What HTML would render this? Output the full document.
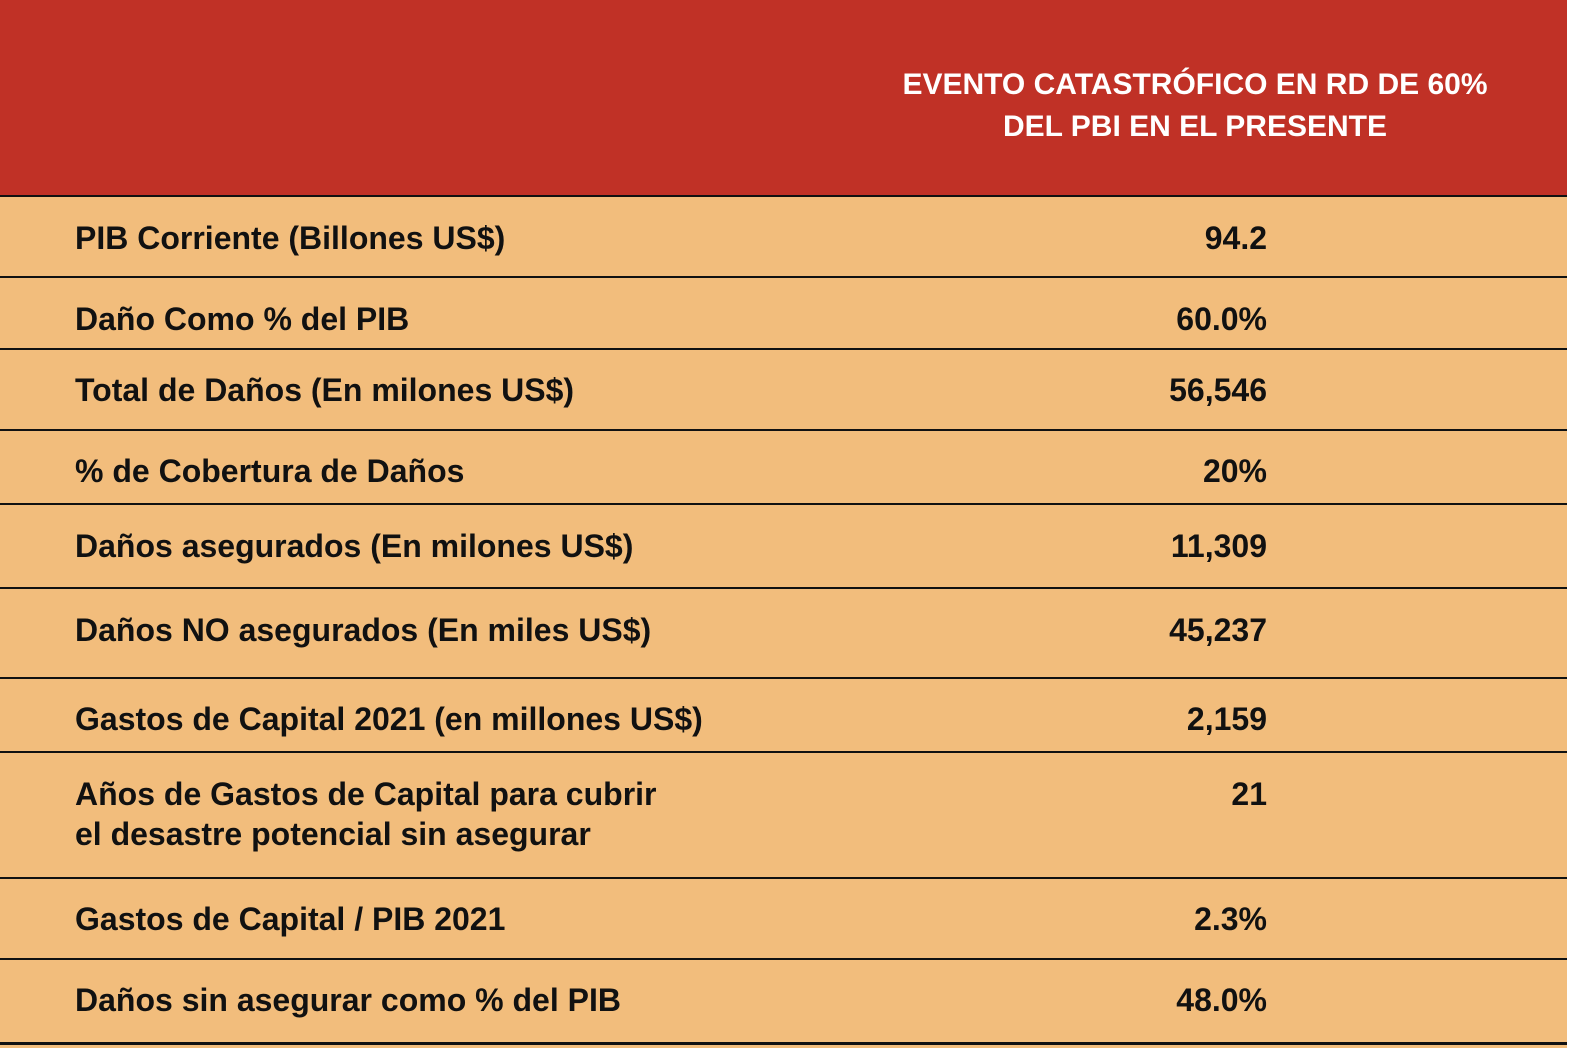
<!DOCTYPE html>
<html><head><meta charset="utf-8"><style>
body{margin:0;width:1572px;height:1048px;background:#fff;position:relative;overflow:hidden;font-family:"Liberation Sans",sans-serif;}
#bg{position:absolute;left:0;top:0;width:1567px;height:1048px;background:#f2bd7c;}
#hd{position:absolute;left:0;top:0;width:1567px;height:195px;background:#c03126;}
.ht{position:absolute;left:895px;width:600px;text-align:center;color:#fff;font-size:30px;font-weight:bold;line-height:42px;top:64px;}
.ln{position:absolute;left:0;width:1567px;height:2px;background:#111;}
.l{position:absolute;left:75px;font-size:32px;font-weight:bold;color:#111;line-height:40px;white-space:nowrap;}
.v{position:absolute;right:305px;font-size:32px;font-weight:bold;color:#111;line-height:40px;white-space:nowrap;}
</style></head><body>
<div id="bg"></div><div id="hd"></div>
<div class="ht">EVENTO CATASTRÓFICO EN RD DE 60%<br>DEL PBI EN EL PRESENTE</div>
<div class="ln" style="top:195px"></div>
<div class="ln" style="top:276px"></div>
<div class="ln" style="top:348px"></div>
<div class="ln" style="top:429px"></div>
<div class="ln" style="top:503px"></div>
<div class="ln" style="top:587px"></div>
<div class="ln" style="top:677px"></div>
<div class="ln" style="top:751px"></div>
<div class="ln" style="top:877px"></div>
<div class="ln" style="top:958px"></div>
<div class="ln" style="top:1042px;height:3px"></div>

<div class="l" style="top:218px">PIB Corriente (Billones US$)</div><div class="v" style="top:218px">94.2</div>
<div class="l" style="top:299px">Daño Como % del PIB</div><div class="v" style="top:299px">60.0%</div>
<div class="l" style="top:370px">Total de Daños (En milones US$)</div><div class="v" style="top:370px">56,546</div>
<div class="l" style="top:451px">% de Cobertura de Daños</div><div class="v" style="top:451px">20%</div>
<div class="l" style="top:526px">Daños asegurados (En milones US$)</div><div class="v" style="top:526px">11,309</div>
<div class="l" style="top:610px">Daños NO asegurados (En miles US$)</div><div class="v" style="top:610px">45,237</div>
<div class="l" style="top:699px">Gastos de Capital 2021 (en millones US$)</div><div class="v" style="top:699px">2,159</div>
<div class="l" style="top:774px">Años de Gastos de Capital para cubrir</div><div class="v" style="top:774px">21</div>
<div class="l" style="top:814px">el desastre potencial sin asegurar</div>
<div class="l" style="top:899px">Gastos de Capital / PIB 2021</div><div class="v" style="top:899px">2.3%</div>
<div class="l" style="top:980px">Daños sin asegurar como % del PIB</div><div class="v" style="top:980px">48.0%</div>
</body></html>
